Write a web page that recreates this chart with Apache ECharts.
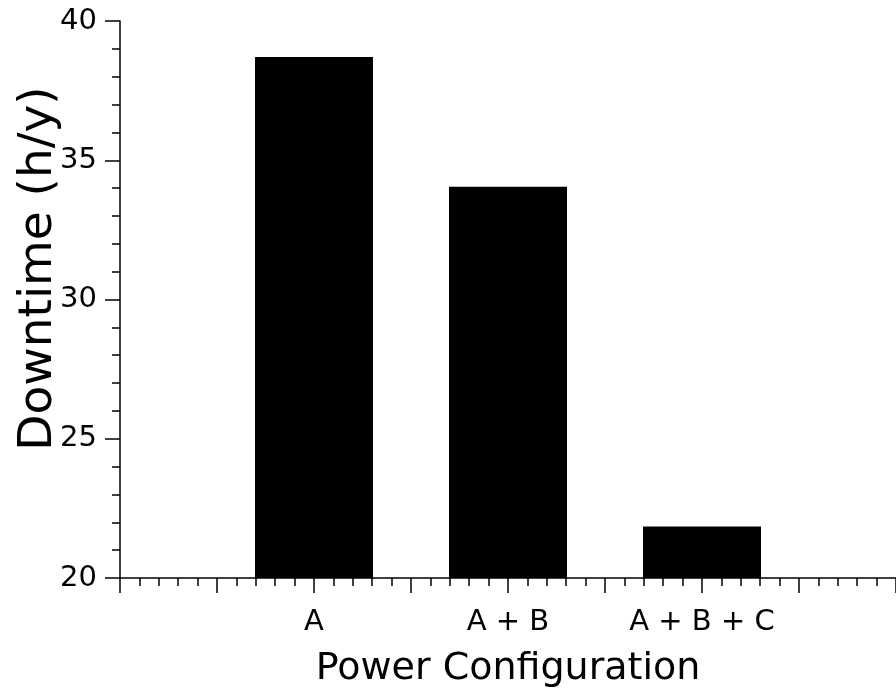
<!DOCTYPE html>
<html>
<head>
<meta charset="utf-8">
<script src="https://cdn.jsdelivr.net/npm/echarts@6/dist/echarts.min.js"></script>
<style>
html,body{margin:0;padding:0;background:#fff;}
#c{width:896px;height:696px;}
</style>
</head>
<body>
<div id="c"></div>
<script>
const categories = ['A', 'A + B', 'A + B + C'];
const xPositions = [2, 4, 6];
const downtime = [38.71, 34.05, 21.85];
const yTicks = [20, 25, 30, 35, 40];

const FONT = 'DejaVu Sans';
const chart = echarts.init(document.getElementById('c'), null, {renderer: 'canvas'});
const data = xPositions.map((x, i) => [x, downtime[i]]);

chart.setOption({
  animation: false,
  backgroundColor: '#fff',
  grid: {left: 120, right: 0, top: 21, bottom: 118, containLabel: false, outerBoundsMode: 'none'},
  xAxis: {
    type: 'value', min: 0, max: 8, interval: 1,
    name: 'Power Configuration', nameLocation: 'middle', nameGap: 72, nameMoveOverlap: false,
    nameTextStyle: {fontFamily: FONT, fontSize: 38, color: '#000'},
    axisLine: {show: true, lineStyle: {color: '#000', width: 1.5}},
    axisTick: {show: true, length: 15, lineStyle: {color: '#000', width: 1.5}},
    minorTick: {show: true, splitNumber: 5, length: 8, lineStyle: {color: '#000', width: 1.5}},
    splitLine: {show: false},
    axisLabel: {
      fontFamily: FONT, fontSize: 29, color: '#000', margin: 30,
      formatter: v => { const i = xPositions.indexOf(v); return i >= 0 ? categories[i] : ''; }
    }
  },
  yAxis: {
    type: 'value', min: yTicks[0], max: yTicks[yTicks.length - 1], interval: 5,
    name: 'Downtime (h/y)', nameLocation: 'middle', nameGap: 58, nameRotate: 90, nameMoveOverlap: false,
    nameTextStyle: {fontFamily: FONT, fontSize: 47, color: '#000', padding: [0, 0, 0, 62]},
    axisLine: {show: true, lineStyle: {color: '#000', width: 1.5}},
    axisTick: {show: true, length: 15, lineStyle: {color: '#000', width: 1.5}},
    minorTick: {show: true, splitNumber: 5, length: 8, lineStyle: {color: '#000', width: 1.5}},
    splitLine: {show: false},
    axisLabel: {fontFamily: FONT, fontSize: 29, color: '#000', margin: 23}
  },
  series: [{
    type: 'bar',
    data: data,
    barWidth: 118,
    itemStyle: {color: '#000'}
  }]
});
</script>
</body>
</html>
